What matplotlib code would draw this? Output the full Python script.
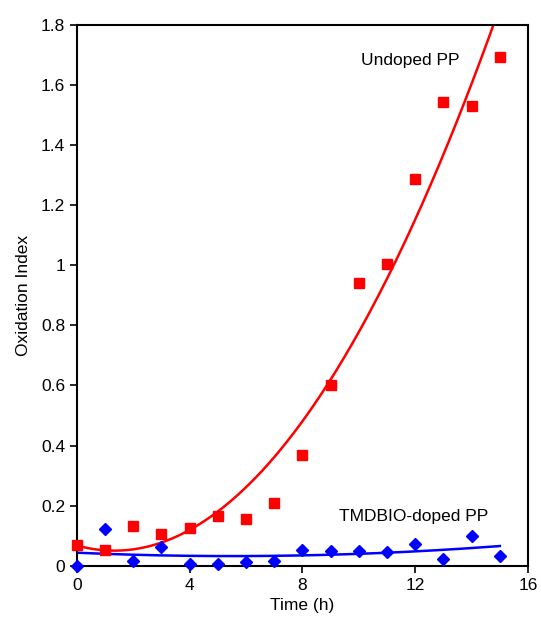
import numpy as np
import matplotlib
matplotlib.use("Agg")
import matplotlib.pyplot as plt
from matplotlib.ticker import FuncFormatter

plt.rcParams['font.family'] = ['Liberation Sans', 'DejaVu Sans']

time_h = [0, 1, 2, 3, 4, 5, 6, 7, 8, 9, 10, 11, 12, 13, 14, 15]
undoped = [0.07, 0.053, 0.133, 0.106, 0.126, 0.166, 0.156, 0.21, 0.369, 0.602,
           0.941, 1.005, 1.287, 1.543, 1.530, 1.693]
doped = [0.0, 0.122, 0.016, 0.061, 0.007, 0.007, 0.014, 0.016, 0.052, 0.048,
         0.048, 0.047, 0.072, 0.024, 0.098, 0.034]

W, H = 541, 635
fig = plt.figure(figsize=(W / 100, H / 100), dpi=100)
ax = fig.add_axes([0.142, 0.109, 0.834, 0.852])

# polynomial trendlines (order 2) like the spreadsheet original
xs = np.linspace(0, 15, 200)
pr = np.polyfit(time_h, undoped, 2)
pb = np.polyfit(time_h, doped, 2)
ax.plot(xs, np.polyval(pr, xs), color='#ff0000', lw=1.8, zorder=2)
ax.plot(xs, np.polyval(pb, xs), color='#0000ff', lw=1.8, zorder=2)

ax.plot(time_h, undoped, ls='none', marker='s', ms=7, color='#ff0000', zorder=3, clip_on=False)
ax.plot(time_h, doped, ls='none', marker='D', ms=6, color='#0000ff', zorder=3, clip_on=False)

ax.set_xlim(0, 16)
ax.set_ylim(0, 1.8)
ax.set_xticks([0, 4, 8, 12, 16])
ax.set_yticks(np.arange(0, 1.81, 0.2))
ax.yaxis.set_major_formatter(FuncFormatter(lambda v, p: f"{v:g}"))
ax.tick_params(direction='out', length=5, width=1.2, labelsize=12.5)
for s in ax.spines.values():
    s.set_linewidth(1.5)

ax.set_xlabel("Time (h)", fontsize=12.5, labelpad=4)
ax.set_ylabel("Oxidation Index", fontsize=12.5, labelpad=7)

fig.text(410 / W, 1 - 60 / H, "Undoped PP", fontsize=12.5, ha='center', va='center')
fig.text(414 / W, 1 - 517 / H, "TMDBIO-doped PP", fontsize=12.5, ha='center', va='center')

fig.savefig("out.png", dpi=100)
